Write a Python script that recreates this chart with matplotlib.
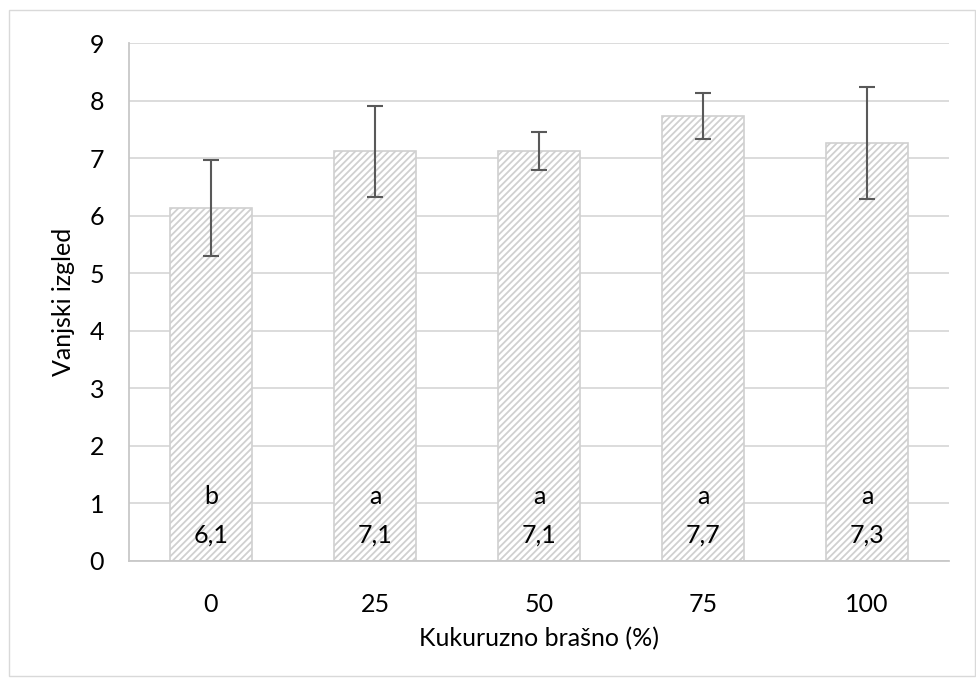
import matplotlib
matplotlib.use("Agg")
import matplotlib.pyplot as plt

categories = ["0", "25", "50", "75", "100"]
values = [6.13, 7.12, 7.12, 7.73, 7.26]
errors = [0.83, 0.79, 0.33, 0.40, 0.97]
letters = ["b", "a", "a", "a", "a"]
value_labels = ["6,1", "7,1", "7,1", "7,7", "7,3"]
yticks = list(range(0, 10))

plt.rcParams['font.family'] = ['Lato', 'DejaVu Sans']
plt.rcParams['hatch.color'] = '#d2d2d2'
plt.rcParams['hatch.linewidth'] = 1.3

fig = plt.figure(figsize=(9.76, 6.86), dpi=100)
ax = fig.add_axes([129/976, 125/686, 820/976, 518/686])

x = list(range(len(categories)))
ax.bar(x, values, width=0.506, color='white', edgecolor='#d0d0d0', linewidth=1.2,
       hatch='/////', zorder=2)
ax.errorbar(x, values, yerr=errors, fmt='none', ecolor='#595959', elinewidth=1.5,
            capsize=6, capthick=1.5, zorder=3)

for xi, lt, vl in zip(x, letters, value_labels):
    ax.text(xi, 1.12, lt, ha='center', va='center', fontsize=18, color='#000000', zorder=4)
    ax.text(xi, 0.45, vl, ha='center', va='center', fontsize=18, color='#000000', zorder=4)

ax.set_xlim(-0.5, len(categories) - 0.5)
ax.set_ylim(0, 9)
ax.set_yticks(yticks)
ax.set_xticks(x)
ax.set_xticklabels(categories)
ax.tick_params(axis='both', length=0, labelsize=18, colors='#000000')
ax.tick_params(axis='x', pad=23)
ax.tick_params(axis='y', pad=18)
ax.grid(axis='y', color='#d9d9d9', linewidth=1.3, zorder=0)
ax.set_axisbelow(True)
for s in ['top', 'right']:
    ax.spines[s].set_visible(False)
for s in ['left', 'bottom']:
    ax.spines[s].set_color('#c8c8c8')
    ax.spines[s].set_linewidth(1.3)

ax.set_xlabel("Kukuruzno brašno (%)", fontsize=18, labelpad=8)
ax.set_ylabel("Vanjski izgled", fontsize=18, labelpad=10)

border = plt.Rectangle((9/976, 10/686), 966/976, 666/686, transform=fig.transFigure,
                       fill=False, edgecolor='#d9d9d9', linewidth=1)
fig.patches.append(border)

fig.savefig("out.png", dpi=100)
